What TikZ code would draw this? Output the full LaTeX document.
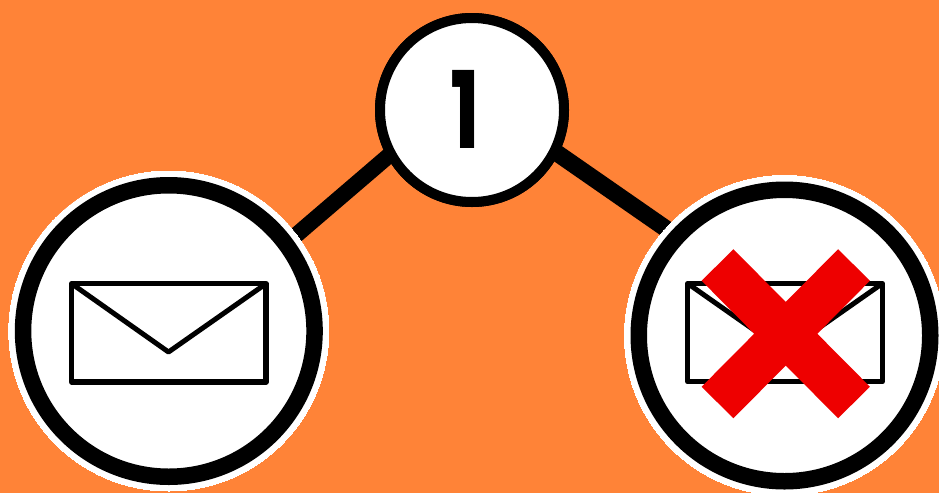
\documentclass[tikz,border=0pt]{standalone}
\usepackage{fontspec}
\setmainfont{Poppins}
\definecolor{bgorange}{RGB}{255,131,55}
\definecolor{xred}{RGB}{238,0,0}
\tikzset{
  x=1pt,y=-1pt,
  link/.style={draw=black,shorten <=-10pt,shorten >=-10pt},
  bigdisc/.style={circle,draw=white,fill=white,inner sep=0pt,minimum size=320pt,line width=0pt},
  bigring/.style={circle,draw=black,fill=white,line width=16.5pt,inner sep=0pt,minimum size=291.5pt},
  topdisc/.style={circle,draw=black,fill=white,line width=10pt,inner sep=0pt,minimum size=184pt},
  envelope/.style={draw=black,fill=white,line width=5.3pt,line join=round},
  flap/.style={draw=black,line width=5pt,line join=round},
  xbar/.style={draw=xred,line width=44.8pt}
}
\begin{document}
\begin{tikzpicture}
\path[use as bounding box,fill=bgorange] (0,0) rectangle (939,493);
\coordinate (tc) at (472,110);
\coordinate (lc) at (168.8,331);
\coordinate (rc) at (784.5,335.5);
\node[topdisc] (t) at (tc) {};
\node[bigdisc] (lw) at (lc) {};
\node[bigdisc] (rw) at (rc) {};
\draw[link,line width=16pt] (t.209.5) -- (lw.37.7);
\draw[link,line width=17pt] (t.333) -- (rw.138.2);
\node[bigdisc] at (lc) {};
\node[bigdisc] at (rc) {};
\node[bigring] (lr) at (lc) {};
\node[bigring] (rr) at (rc) {};
\node[topdisc] at (tc) {};
\node[inner sep=0pt] (one) at (465,109.7) {\scalebox{0.74}[1]{\fontsize{107pt}{107pt}\selectfont\bfseries 1}};
\draw[envelope] (71.7,283.7) rectangle (266,382);
\draw[flap] (71.7,283.7) -- (168.5,352) -- (266,283.7);
\draw[envelope] (687.7,283.5) rectangle (882.3,381.7);
\draw[flap] (687.7,283.5) -- (785,351.7) -- (882.3,283.5);
\draw[xbar] (717.5,265) -- (854,402.5);
\draw[xbar] (854,265) -- (717.5,402.5);
\end{tikzpicture}
\end{document}
